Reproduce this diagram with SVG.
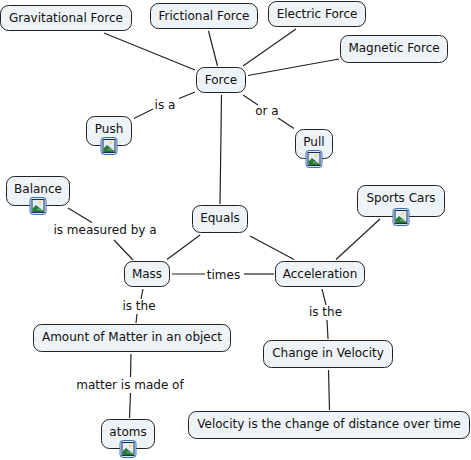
<svg xmlns="http://www.w3.org/2000/svg" xmlns:xlink="http://www.w3.org/1999/xlink" width="471" height="460" viewBox="0 0 471 460">
<style>
text{font-family:"DejaVu Sans",Verdana,sans-serif;font-size:12px;fill:#111;text-anchor:middle}
.n{fill:#edf3f6;stroke:#222;stroke-width:1}
#connectors line{stroke:#222;stroke-width:1.2}
</style>
<defs>
<g id="icon">
<rect x="0.5" y="0.5" width="16" height="17" rx="3" fill="#dbe8f7" stroke="#3a74c0" stroke-width="1"/>
<rect x="2.5" y="2.5" width="12" height="13" fill="#e4ecf8" stroke="#1c2c44" stroke-width="1"/>
<circle cx="10.5" cy="5.5" r="1.6" fill="#f0dc80"/>
<path d="M3 15 L3 11.5 L6.5 8 L14 14 L14 15 Z" fill="#2a7a3a"/>
<path d="M7.5 12.5 L10 12 L12 14" fill="none" stroke="#a8d0ac" stroke-width="0.8"/>
</g>
</defs>
<rect width="471" height="460" fill="#fff"/>
<g id="connectors">
<line x1="104" y1="33" x2="195" y2="70"/>
<line x1="208.5" y1="31" x2="217.5" y2="66"/>
<line x1="296" y1="29" x2="243" y2="66"/>
<line x1="339" y1="59" x2="248" y2="75.5"/>
<line x1="221.5" y1="95" x2="220" y2="204"/>
<line x1="195" y1="92" x2="179" y2="98.5"/>
<line x1="153" y1="109" x2="134" y2="118.5"/>
<line x1="243" y1="95" x2="258" y2="105"/>
<line x1="278" y1="118" x2="294" y2="128.5"/>
<line x1="68" y1="208" x2="92" y2="222.5"/>
<line x1="114" y1="240" x2="133" y2="260"/>
<line x1="200" y1="235" x2="167" y2="259.5"/>
<line x1="172" y1="274" x2="205" y2="274"/>
<line x1="244" y1="274" x2="274" y2="274"/>
<line x1="250" y1="236" x2="294" y2="259.5"/>
<line x1="380" y1="219" x2="336" y2="259.5"/>
<line x1="143" y1="289" x2="141" y2="299"/>
<line x1="137" y1="314" x2="136" y2="323"/>
<line x1="322" y1="289" x2="326" y2="305"/>
<line x1="327" y1="320" x2="328" y2="339"/>
<line x1="328.5" y1="370" x2="329.5" y2="410"/>
<line x1="131" y1="354" x2="130.5" y2="377"/>
<line x1="130.5" y1="393" x2="129.5" y2="418"/>
<text x="165" y="109">is a</text>
<text x="267" y="115">or a</text>
<text x="105" y="234">is measured by a</text>
<text x="223.5" y="279">times</text>
<text x="139" y="310">is the</text>
<text x="325.5" y="316">is the</text>
<text x="130" y="389">matter is made of</text>
</g>
<g id="gravitational"><rect class="n" x="0.5" y="5.5" width="131" height="25" rx="8"/><text x="66" y="22">Gravitational Force</text></g>
<g id="frictional"><rect class="n" x="150.5" y="3.5" width="107" height="25" rx="8"/><text x="204" y="20">Frictional Force</text></g>
<g id="electric"><rect class="n" x="268.5" y="1.5" width="97" height="25" rx="8"/><text x="317" y="18">Electric Force</text></g>
<g id="magnetic"><rect class="n" x="340.5" y="35.5" width="107" height="27" rx="8"/><text x="394" y="52">Magnetic Force</text></g>
<g id="force"><rect class="n" x="196.5" y="67.5" width="49" height="25" rx="8"/><text x="221" y="84">Force</text></g>
<g id="push"><rect class="n" x="86.5" y="116.5" width="45" height="29" rx="8"/><text x="109" y="133">Push</text><use xlink:href="#icon" href="#icon" x="100.5" y="137"/></g>
<g id="pull"><rect class="n" x="295.5" y="129.5" width="37" height="29" rx="8"/><text x="314" y="146">Pull</text><use xlink:href="#icon" href="#icon" x="305.5" y="150"/></g>
<g id="balance"><rect class="n" x="6.5" y="176.5" width="63" height="29" rx="8"/><text x="38" y="193">Balance</text><use xlink:href="#icon" href="#icon" x="29.5" y="197"/></g>
<g id="equals"><rect class="n" x="192.5" y="205.5" width="55" height="27" rx="8"/><text x="220" y="222">Equals</text></g>
<g id="sports"><rect class="n" x="357.5" y="185.5" width="87" height="31" rx="8"/><text x="401" y="202">Sports Cars</text><use xlink:href="#icon" href="#icon" x="392.5" y="208"/></g>
<g id="mass"><rect class="n" x="124.5" y="261.5" width="45" height="25" rx="8"/><text x="147" y="278">Mass</text></g>
<g id="acceleration"><rect class="n" x="275.5" y="261.5" width="89" height="25" rx="8"/><text x="320" y="278">Acceleration</text></g>
<g id="amount"><rect class="n" x="33.5" y="324.5" width="197" height="27" rx="8"/><text x="132" y="341">Amount of Matter in an object</text></g>
<g id="change"><rect class="n" x="263.5" y="340.5" width="129" height="27" rx="8"/><text x="328" y="357">Change in Velocity</text></g>
<g id="velocity"><rect class="n" x="188.5" y="411.5" width="281" height="27" rx="8"/><text x="329" y="428">Velocity is the change of distance over time</text></g>
<g id="atoms"><rect class="n" x="101.5" y="419.5" width="53" height="29" rx="8"/><text x="128" y="436">atoms</text><use xlink:href="#icon" href="#icon" x="119.5" y="440"/></g>
</svg>
